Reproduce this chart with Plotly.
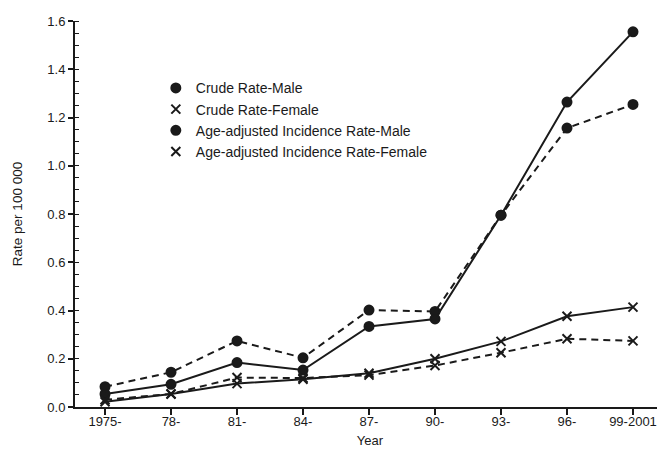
import plotly.graph_objects as go

categories = ["1975-", "78-", "81-", "84-", "87-", "90-", "93-", "96-", "99-2001"]
crude_male = [0.054, 0.094, 0.184, 0.153, 0.334, 0.365, 0.795, 1.264, 1.555]
crude_female = [0.022, 0.054, 0.097, 0.115, 0.140, 0.200, 0.272, 0.376, 0.414]
adj_male = [0.084, 0.144, 0.274, 0.204, 0.402, 0.396, 0.795, 1.156, 1.254]
adj_female = [0.030, 0.054, 0.122, 0.120, 0.132, 0.172, 0.225, 0.283, 0.274]
y_ticks = [0.0, 0.2, 0.4, 0.6, 0.8, 1.0, 1.2, 1.4, 1.6]

INK = "#1a1a1a"
FONT = "Arial, Liberation Sans, sans-serif"

series = [
    ("Crude Rate-Male", crude_male, "circle", "solid"),
    ("Crude Rate-Female", crude_female, "x-thin", "solid"),
    ("Age-adjusted Incidence Rate-Male", adj_male, "circle", "7px,5px"),
    ("Age-adjusted Incidence Rate-Female", adj_female, "x-thin", "7px,5px"),
]

fig = go.Figure()
for name, vals, sym, dash in series:
    fig.add_trace(go.Scatter(
        x=categories, y=vals, mode="lines+markers", name=name, showlegend=False,
        line=dict(color=INK, width=2, dash=dash),
        marker=dict(symbol=sym, size=9, color=INK, line=dict(color=INK, width=2)),
    ))
for name, vals, sym, dash in series:
    fig.add_trace(go.Scatter(
        x=[None], y=[None], mode="markers", name=name, showlegend=True,
        marker=dict(symbol=sym, size=9, color=INK, line=dict(color=INK, width=2)),
    ))

# the page body adds an 8px offset; margins compensate so the plot lands where the reference has it
fig.update_layout(
    width=665, height=450,
    margin=dict(l=67, r=8, t=13, b=51),
    paper_bgcolor="white", plot_bgcolor="white",
    font=dict(family=FONT, size=13, color=INK),
    legend=dict(x=0.137, y=0.867, xanchor="left", yanchor="top",
                bgcolor="rgba(0,0,0,0)", font=dict(size=14, color=INK),
                itemwidth=30, tracegroupgap=0),
    xaxis=dict(
        type="category", range=[-0.455, 8.485], automargin=False,
        showline=True, linecolor=INK, linewidth=2,
        ticks="outside", ticklen=6, tickwidth=2, tickcolor=INK,
        ticklabelstandoff=-5,
        showgrid=False, zeroline=False,
        tickfont=dict(size=13, color=INK),
        title=dict(text="Year", font=dict(size=13, color=INK), standoff=8),
    ),
    yaxis=dict(
        range=[0, 1.6], tickvals=y_ticks, ticktext=[f"{v:.1f}" for v in y_ticks],
        automargin=False,
        showline=True, linecolor=INK, linewidth=2,
        ticks="outside", ticklen=5, tickwidth=2, tickcolor=INK,
        minor=dict(dtick=0.05, ticks="inside", ticklen=4, tickwidth=1, tickcolor=INK, showgrid=False),
        showgrid=False, zeroline=False,
        tickfont=dict(size=13, color=INK),
        title=dict(text="Rate per 100 000", font=dict(size=13.5, color=INK), standoff=22),
    ),
)

fig.write_html("out.html")
